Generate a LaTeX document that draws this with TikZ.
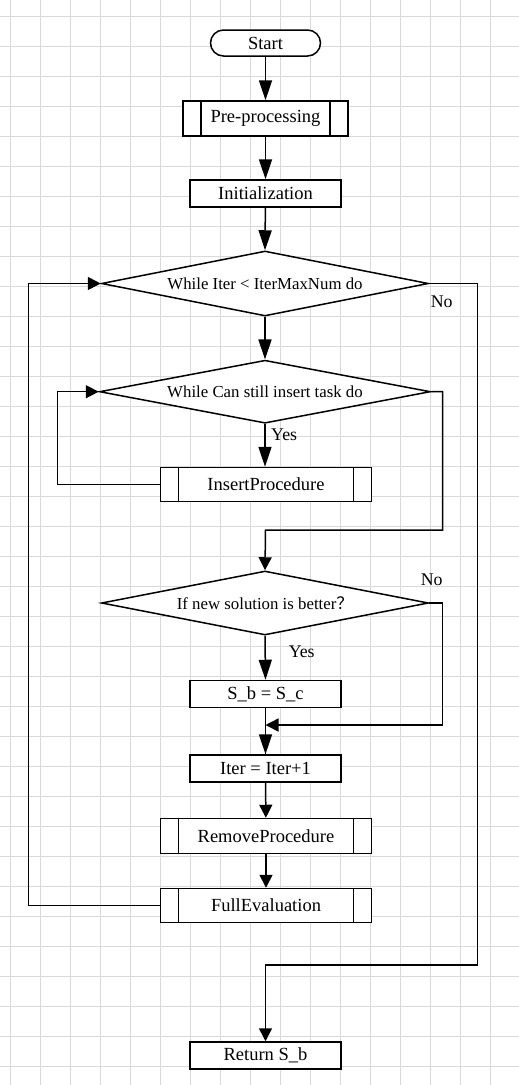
\documentclass[tikz,border=0pt]{standalone}
\usepackage{fontspec}
\setmainfont{Liberation Serif}
\newfontfamily\cjkf{Noto Sans CJK SC}
\usetikzlibrary{shapes.geometric,arrows.meta,calc}
\tikzset{
  gridline/.style={draw=gray!30, line width=0.8pt},
  box/.style={draw, line width=1.5pt, fill=white, minimum width=151pt, minimum height=27pt, inner sep=0pt, font=\fontsize{18.5}{22}\selectfont},
  term/.style={box, minimum width=110pt, minimum height=26pt, rounded corners=13pt},
  sub/.style={box, minimum width=#1, minimum height=35pt,
    path picture={\draw[line width=1.5pt]
      ([xshift=18pt]path picture bounding box.north west) -- ([xshift=18pt]path picture bounding box.south west)
      ([xshift=-18pt]path picture bounding box.north east) -- ([xshift=-18pt]path picture bounding box.south east);}},
  dec/.style={draw, shape=diamond, line width=1.5pt, fill=white, inner sep=0pt, shape aspect=5, font=\fontsize{16.8}{20}\selectfont},
  conn/.style={line width=1.5pt},
  arrbig/.style={conn, -{Triangle[length=20pt,width=13pt]}},
  arrsmall/.style={conn, -{Triangle[length=13pt,width=13pt]}},
  lbl/.style={inner sep=0pt, font=\fontsize{17.8}{20}\selectfont},
}
\begin{document}
\begin{tikzpicture}[x=1pt,y=-1pt]
\useasboundingbox (0,0) rectangle (519,1085);
\fill[white] (0,0) rectangle (519,1085);
\foreach \gx in {10,40,...,520} \draw[gridline] (\gx,0) -- (\gx,1085);
\foreach \gy in {16,46,...,1080} \draw[gridline] (0,\gy) -- (519,\gy);

\node[term] (start) at (265.5,43) {Start};
\node[sub=165pt] (pre) at (265.5,118.5) {Pre-processing};
\node[box] (init) at (265.5,193.5) {Initialization};
\node[dec, minimum width=327pt, minimum height=65pt] (w1) at (265,283.5) {While Iter < IterMaxNum do};
\node[dec, minimum width=331pt, minimum height=63pt] (w2) at (265,391.7) {While Can still insert task do};
\node[sub=211pt, minimum height=34pt] (ins) at (266,484.5) {InsertProcedure};
\node[dec, minimum width=327pt, minimum height=64pt] (ifd) at (265,603) {If new solution is better{\cjkf ？}};
\node[box] (sb) at (265.5,694) {S\_b = S\_c};
\node[box] (iter) at (265.5,768.5) {Iter = Iter+1};
\node[sub=211pt] (rem) at (266,836) {RemoveProcedure};
\node[sub=211pt, minimum height=34pt] (full) at (266,905.5) {FullEvaluation};
\node[box] (ret) at (265.5,1055.5) {Return S\_b};

\coordinate (w2r) at (442.7,391.7);
\coordinate (w2d) at (265.5,530);
\coordinate (w1r) at (477.3,283.5);
\coordinate (w1d) at (265.5,965);
\coordinate (ifr) at (442.3,603);
\coordinate (ifj) at (265.5,725);
\coordinate (insl) at (57.3,391.7);
\coordinate (fulll) at (28.3,283.5);

\draw[arrbig] (start) -- (pre);
\draw[arrbig] (pre) -- (init);
\draw[arrbig] (init) -- (w1.north);
\draw[arrbig] (w1.south) -- (w2.north);
\draw[arrbig] (w2.south) -- (w2.south |- ins.north);
\draw[arrsmall] (ins.west) -| (insl) -- (w2.west);
\draw[arrsmall] (w2.east) -- (w2r) |- (w2d) -- (ifd.north);
\draw[arrsmall] (w1.east) -- (w1r) |- (w1d) -- (ret.north);
\draw[arrbig] (ifd.south) -- (sb.north);
\draw[conn] (sb.south) -- (iter.north);
\draw[arrbig] (ifj) -- (iter.north);
\draw[arrsmall] (ifd.east) -- (ifr) |- (ifj);
\draw[arrsmall] (iter) -- (rem);
\draw[arrsmall] (rem) -- (full);
\draw[arrsmall] (full.west) -| (fulll) -- (w1.west);

\node[lbl, anchor=west] (y1) at (271,435) {Yes};
\node[lbl] (n1) at (441.7,302) {No};
\node[lbl] (n2) at (431.7,579.3) {No};
\node[lbl] (y2) at (301.7,651.7) {Yes};
\end{tikzpicture}
\end{document}
